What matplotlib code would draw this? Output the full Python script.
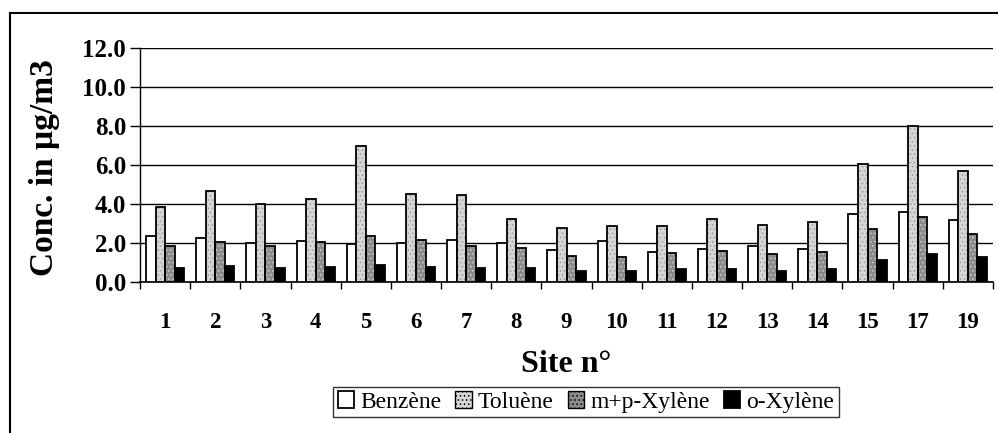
import matplotlib
matplotlib.use("Agg")
import matplotlib.pyplot as plt
from matplotlib.lines import Line2D
import numpy as np

sites = ["1", "2", "3", "4", "5", "6", "7", "8", "9", "10", "11", "12", "13", "14", "15", "17", "19"]
benzene = [2.37, 2.26, 1.98, 2.07, 1.96, 1.98, 2.15, 1.98, 1.64, 2.10, 1.55, 1.68, 1.81, 1.68, 3.49, 3.57, 3.18]
toluene = [3.83, 4.65, 4.00, 4.26, 6.99, 4.51, 4.43, 3.21, 2.75, 2.84, 2.87, 3.23, 2.89, 3.06, 6.05, 8.00, 5.69]
mp_xylene = [1.81, 2.03, 1.85, 2.03, 2.37, 2.12, 1.85, 1.73, 1.33, 1.25, 1.47, 1.59, 1.42, 1.50, 2.70, 3.30, 2.44]
o_xylene = [0.70, 0.82, 0.70, 0.73, 0.84, 0.73, 0.70, 0.70, 0.53, 0.53, 0.65, 0.65, 0.56, 0.65, 1.13, 1.44, 1.25]

series = [benzene, toluene, mp_xylene, o_xylene]
labels = ["Benzène", "Toluène", "m+p-Xylène", "o-Xylène"]
faces = ["white", "#d6d6d6", "#8c8c8c", "black"]
hatches = [None, "....", "....", None]
hatch_cols = ["black", "#9a9a9a", "#cfcfcf", "black"]

plt.rcParams["font.family"] = ["Liberation Serif", "DejaVu Serif"]
plt.rcParams["hatch.linewidth"] = 0.6

fig = plt.figure(figsize=(9.98, 4.33), dpi=100)
ax = fig.add_axes([140 / 998, 1 - 281.7 / 433, (993 - 140) / 998, (281.7 - 48) / 433])

x = np.arange(len(sites))
w = 0.19
handles = []
for i, vals in enumerate(series):
    pos = x + (i - 1.5) * w
    if hatches[i]:
        ax.bar(pos, vals, w, color=faces[i], hatch=hatches[i], edgecolor=hatch_cols[i],
               linewidth=0, zorder=3)
        ax.bar(pos, vals, w, facecolor="none", edgecolor="black", linewidth=1.3, zorder=4)
        handles.append(ax.bar([0], [0], 0, color=faces[i], hatch=hatches[i],
                              edgecolor="black", linewidth=1.0))
    else:
        b = ax.bar(pos, vals, w, color=faces[i], edgecolor="black", linewidth=1.3, zorder=3)
        handles.append(b)

ax.set_xlim(-0.5, len(sites) - 0.5)
ax.set_ylim(0, 12)
yt = np.arange(0, 12.1, 2)
ax.set_yticks(yt)
ax.set_yticklabels([f"{v:.1f}" for v in yt], fontsize=18, fontweight="bold")
ax.yaxis.grid(True, color="black", linewidth=1.0, zorder=0)
ax.set_axisbelow(True)

ax.set_xticks(x)
ax.set_xticklabels(sites, fontsize=16.5, fontweight="bold")
ax.set_xticks(np.arange(-0.5, len(sites), 1), minor=True)
ax.tick_params(axis="x", which="major", length=0, pad=22)
ax.tick_params(axis="x", which="minor", length=5, width=1.0, direction="out")
ax.tick_params(axis="y", length=7, width=1.0, direction="out", pad=3)

for s in ["top", "right"]:
    ax.spines[s].set_visible(False)
ax.spines["left"].set_linewidth(1.0)
ax.spines["bottom"].set_linewidth(1.2)

ax.set_ylabel("Conc. in µg/m3", fontsize=24, fontweight="bold", va="center")
ax.yaxis.set_label_coords(-0.1125, 0.489)
ax.set_xlabel("Site n°", fontsize=23, fontweight="bold", labelpad=12)

leg = fig.legend(handles, labels, loc="center", bbox_to_anchor=(0.587, 1 - 402 / 433),
                 ncol=4, fontsize=17, frameon=True, fancybox=False, edgecolor="black",
                 handlelength=0.7, handleheight=0.7, handletextpad=0.25, columnspacing=0.6,
                 borderpad=0.2, borderaxespad=0)
leg.get_frame().set_linewidth(1.0)

fig.add_artist(Line2D([10 / 998, 10 / 998], [0, 1 - 13 / 433], color="black", linewidth=1.5))
fig.add_artist(Line2D([10 / 998, 1], [1 - 13 / 433, 1 - 13 / 433], color="black", linewidth=1.5))

fig.savefig("out.png", dpi=100)
